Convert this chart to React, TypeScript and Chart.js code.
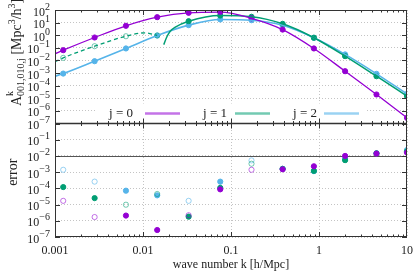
import React, { useEffect, useRef } from "react";
import { Chart, registerables } from "chart.js";

Chart.register(...registerables);

// ---- data ----
const kPoints = [0.00124, 0.00282, 0.0064, 0.0145, 0.033, 0.0755, 0.171, 0.386, 0.875, 1.98, 4.5, 10];

// top panel: A^k_{001,010,j}
const amp0 = [0.065, 0.66, 5.6, 27, 60, 68, 22, 2.8, 0.089, 1.4e-3, 2.0e-5, 2.8e-7];
const amp1 = [0.016, 0.135, 0.83, 0.95, 12.9, 36, 29, 8.0, 0.63, 0.022, 5.6e-4, 1.5e-5];
const amp1Filled = [false, false, false, false, true, true, true, true, true, true, true, true];
const amp2 = [9.1e-4, 8.7e-3, 0.089, 0.95, 6.3, 17.8, 15.5, 6.2, 0.63, 0.03, 8.7e-4, 2.2e-5];

// curves
const curve0K = [0.001, 0.00124, 0.00282, 0.0064, 0.0145, 0.033, 0.0755, 0.171, 0.386, 0.875, 1.98, 4.5, 10];
const curve0V = [0.034, 0.065, 0.66, 5.6, 27, 60, 68, 22, 2.8, 0.089, 1.4e-3, 2.0e-5, 2.8e-7];
const curve1DashK = [0.001, 0.00124, 0.00282, 0.0064, 0.0105, 0.0145];
const curve1DashV = [0.0079, 0.016, 0.135, 0.83, 1.55, 0.95];
const curve1K = [0.0172, 0.0188, 0.0204, 0.0233, 0.033, 0.0755, 0.171, 0.386, 0.875, 1.98, 4.5, 10];
const curve1V = [0.18, 0.83, 2.1, 4.4, 12.9, 36, 29, 8.0, 0.63, 0.022, 5.6e-4, 1.5e-5];
const curve2K = [0.001, 0.00124, 0.00282, 0.0064, 0.0145, 0.033, 0.0755, 0.171, 0.386, 0.875, 1.98, 4.5, 10];
const curve2V = [5.6e-4, 9.1e-4, 8.7e-3, 0.089, 0.95, 6.3, 17.8, 15.5, 6.2, 0.63, 0.03, 8.7e-4, 2.2e-5];

// bottom panel: error (filled = positive, open = negative)
const err0 = [1.7e-5, 1.7e-6, 2.1e-6, 2.7e-7, 2.2e-6, 8.7e-5, 1.4e-3, 1.5e-3, 2.3e-3, 1.0e-2, 1.4e-2, 1.6e-2];
const err0Filled = [false, false, true, true, false, true, false, true, true, true, true, true];
const err1 = [1.2e-4, 2.5e-5, 9.8e-6, 4.5e-5, 1.8e-6, 1.07e-4, 3.3e-3, 1.6e-3, 1.2e-3, 5.5e-3, 1.45e-2, 1.9e-2];
const err1Filled = [true, true, false, false, true, true, false, true, true, true, true, true];
const err2 = [1.4e-3, 2.6e-4, 7.2e-5, 3.7e-5, 1.7e-5, 2.6e-4, 5.3e-3, 1.6e-3, 1.15e-3, 6.5e-3, 1.45e-2, 2.3e-2];
const err2Filled = [false, false, true, true, false, true, false, true, true, true, true, true];
const errThreshold = 1e-2;

// axes
const xTicks = [0.001, 0.01, 0.1, 1, 10];
const xTickLabels = ["0.001", "0.01", "0.1", "1", "10"];
const topExponents = [-7, -6, -5, -4, -3, -2, -1, 0, 1, 2];
const errExponents = [-7, -6, -5, -4, -3, -2, -1, 0];
const errLabelExponents = [-7, -6, -5, -4, -3, -2, -1];
const legendLabels = ["j = 0", "j = 1", "j = 2"];

const PURPLE = "#9400d3";
const GREEN = "#009e73";
const BLUE = "#56b4e9";
const PURPLE_L = "rgba(148,0,211,0.55)";
const GREEN_L = "rgba(0,158,115,0.55)";
const BLUE_L = "rgba(86,180,233,0.6)";
const SERIF = "'Liberation Serif', 'DejaVu Serif', 'Times New Roman', serif";
const TEXT = "#222";

function pts(ks: number[], vs: number[]) {
  return ks.map((k, i) => ({ x: k, y: vs[i] }));
}

function lineDS(ks: number[], vs: number[], color: string, width: number, dash: number[] = []) {
  return {
    data: pts(ks, vs),
    yAxisID: "y",
    showLine: true,
    borderColor: color,
    borderWidth: width,
    borderDash: dash,
    pointRadius: 0,
    cubicInterpolationMode: "monotone" as const,
    fill: false,
  };
}

function markDS(vs: number[], filled: boolean[], color: string, light: string, axis: string) {
  return {
    data: pts(kPoints, vs),
    yAxisID: axis,
    showLine: false,
    pointRadius: 2.6,
    pointBackgroundColor: filled.map((f) => (f ? color : "rgba(255,255,255,0)")),
    pointBorderColor: filled.map((f) => (f ? color : light)),
    pointBorderWidth: 1,
  };
}

const allTrue = kPoints.map(() => true);

const decor = {
  id: "decor",
  beforeDatasetsDraw(chart: any) {
    const { ctx, chartArea } = chart;
    const y2 = chart.scales.y2;
    const yy = Math.round(y2.getPixelForValue(errThreshold)) + 0.5;
    ctx.save();
    ctx.strokeStyle = "#555";
    ctx.lineWidth = 1;
    ctx.beginPath();
    ctx.moveTo(chartArea.left, yy);
    ctx.lineTo(chartArea.right, yy);
    ctx.stroke();
    ctx.restore();
  },
  afterDatasetsDraw(chart: any) {
    const { ctx, chartArea } = chart;
    const xs = chart.scales.x;
    const ys = chart.scales.y;
    const y2 = chart.scales.y2;
    const L = chartArea.left, R = chartArea.right, T = chartArea.top, B = chartArea.bottom;
    const mid = ys.bottom;

    // legend (white box inside top panel)
    ctx.save();
    ctx.fillStyle = "#fff";
    ctx.fillRect(95, mid - 20, 272, 19);
    const legColors = [PURPLE_L, GREEN_L, BLUE_L];
    const textRight = [133, 227, 317];
    const lineStart = [145, 235, 324];
    ctx.font = `13px ${SERIF}`;
    ctx.textAlign = "right";
    ctx.textBaseline = "middle";
    legendLabels.forEach((lab, i) => {
      ctx.fillStyle = TEXT;
      ctx.fillText(lab, textRight[i], mid - 9.5);
      ctx.strokeStyle = legColors[i];
      ctx.lineWidth = 2.5;
      ctx.beginPath();
      ctx.moveTo(lineStart[i], mid - 10);
      ctx.lineTo(lineStart[i] + 35, mid - 10);
      ctx.stroke();
    });
    ctx.restore();

    // frame
    ctx.save();
    ctx.strokeStyle = "#333";
    ctx.lineWidth = 1;
    ctx.strokeRect(Math.round(L) + 0.5, Math.round(T) + 0.5, Math.round(R - L) - 1, Math.round(B - T) - 1);
    ctx.lineWidth = 1.5;
    ctx.beginPath();
    ctx.moveTo(L, mid);
    ctx.lineTo(R, mid);
    ctx.stroke();

    // x tick marks (inward, on all horizontal borders)
    const edges = [
      { y: T, dir: 1 },
      { y: mid, dir: -1 },
      { y: mid, dir: 1 },
      { y: B, dir: -1 },
    ];
    ctx.lineWidth = 1;
    ctx.beginPath();
    for (let e = -3; e <= 0; e++) {
      for (let m = 1; m <= 9; m++) {
        const v = m * Math.pow(10, e);
        const px = Math.round(xs.getPixelForValue(v)) + 0.5;
        const len = m === 1 ? 5 : 2.5;
        edges.forEach((ed) => {
          ctx.moveTo(px, ed.y);
          ctx.lineTo(px, ed.y + ed.dir * len);
        });
      }
    }
    // y tick marks (left and right)
    const yMarks = (scale: any, exps: number[]) => {
      exps.forEach((e) => {
        const py = Math.round(scale.getPixelForValue(Math.pow(10, e))) + 0.5;
        ctx.moveTo(L, py);
        ctx.lineTo(L + 5, py);
        ctx.moveTo(R, py);
        ctx.lineTo(R - 5, py);
      });
    };
    yMarks(ys, topExponents);
    yMarks(y2, errExponents);
    ctx.stroke();
    ctx.restore();

    // y tick labels 10^n
    const yLabels = (scale: any, exps: number[]) => {
      exps.forEach((e) => {
        const py = scale.getPixelForValue(Math.pow(10, e));
        const expTxt = e < 0 ? "\u2212" + String(-e) : String(e);
        ctx.font = `10px ${SERIF}`;
        const ew = ctx.measureText(expTxt).width;
        ctx.textAlign = "right";
        ctx.textBaseline = "alphabetic";
        ctx.fillStyle = TEXT;
        ctx.fillText(expTxt, 50, py - 0.5);
        ctx.font = `12px ${SERIF}`;
        ctx.fillText("10", 50 - ew, py + 5.5);
      });
    };
    ctx.save();
    yLabels(ys, topExponents);
    yLabels(y2, errLabelExponents);
    ctx.restore();

    // y titles
    ctx.save();
    ctx.fillStyle = TEXT;
    ctx.translate(20.5, 106);
    ctx.rotate(-Math.PI / 2);
    ctx.textAlign = "left";
    ctx.textBaseline = "alphabetic";
    let x = 0;
    const seg = (t: string, size: number, dy: number, advance = true) => {
      ctx.font = `${size}px ${SERIF}`;
      ctx.fillText(t, x, dy);
      const w = ctx.measureText(t).width;
      if (advance) x += w;
      return w;
    };
    seg("A", 14, 0);
    const x0 = x;
    seg("k", 10, -7.5, false);
    x = x0;
    seg("001,010,j", 10, 3.5);
    seg(" [Mpc", 14, 0);
    seg("3", 10, -6);
    seg("/h", 14, 0);
    seg("3", 10, -6);
    seg("]", 14, 0);
    ctx.restore();

    ctx.save();
    ctx.fillStyle = TEXT;
    ctx.translate(17, (y2.top + y2.bottom) / 2 - 8);
    ctx.rotate(-Math.PI / 2);
    ctx.textAlign = "center";
    ctx.textBaseline = "alphabetic";
    ctx.font = `14px ${SERIF}`;
    ctx.fillText("error", 0, 0);
    ctx.restore();
  },
};

export default function App() {
  const ref = useRef<HTMLCanvasElement | null>(null);
  useEffect(() => {
    document.body.style.margin = "0";
    const canvas = ref.current;
    if (!canvas) return;
    const decadeTicks = (exps: number[]) => (s: any) => {
      s.ticks = exps.map((e) => ({ value: Math.pow(10, e) }));
    };
    const gridOpts = { color: "#c4c4c4", lineWidth: 1, drawTicks: false };
    const chart = new Chart(canvas, {
      type: "scatter",
      data: {
        datasets: [
          lineDS(curve0K, curve0V, PURPLE, 1.3),
          lineDS(curve1DashK, curve1DashV, GREEN, 1.3, [4, 3]),
          lineDS(curve1K, curve1V, GREEN, 1.5),
          lineDS(curve2K, curve2V, BLUE, 1.6),
          markDS(amp0, allTrue, PURPLE, PURPLE_L, "y"),
          markDS(amp1, amp1Filled, GREEN, GREEN_L, "y"),
          markDS(amp2, allTrue, BLUE, BLUE_L, "y"),
          markDS(err0, err0Filled, PURPLE, PURPLE_L, "y2"),
          markDS(err1, err1Filled, GREEN, GREEN_L, "y2"),
          markDS(err2, err2Filled, BLUE, BLUE_L, "y2"),
        ] as any,
      },
      options: {
        animation: false,
        responsive: false,
        devicePixelRatio: 1,
        layout: { padding: { top: 10, right: 8, left: 0, bottom: 0 } },
        plugins: { legend: { display: false }, tooltip: { enabled: false } },
        scales: {
          y2: {
            type: "logarithmic",
            position: "left",
            stack: "panels",
            stackWeight: 1,
            min: 1e-7,
            max: 1,
            afterBuildTicks: decadeTicks(errExponents),
            afterFit: (s: any) => {
              s.width = 55;
            },
            ticks: { display: false },
            grid: gridOpts,
            border: { display: false, dash: [1, 2] },
          },
          y: {
            type: "logarithmic",
            position: "left",
            stack: "panels",
            stackWeight: 1,
            min: 1e-7,
            max: 100,
            afterBuildTicks: decadeTicks(topExponents),
            afterFit: (s: any) => {
              s.width = 55;
            },
            ticks: { display: false },
            grid: gridOpts,
            border: { display: false, dash: [1, 2] },
          },
          x: {
            type: "logarithmic",
            position: "bottom",
            min: 0.001,
            max: 10,
            afterBuildTicks: (s: any) => {
              s.ticks = xTicks.map((v) => ({ value: v }));
            },
            afterFit: (s: any) => {
              s.height = 43;
            },
            ticks: {
              autoSkip: false,
              maxRotation: 0,
              padding: 7,
              color: TEXT,
              font: { family: SERIF, size: 12 },
              callback: (v: any) => {
                const i = xTicks.indexOf(Number(v));
                return i >= 0 ? xTickLabels[i] : "";
              },
            },
            grid: gridOpts,
            border: { display: false, dash: [1, 2] },
            title: {
              display: true,
              text: "wave number k [h/Mpc]",
              color: TEXT,
              font: { family: SERIF, size: 12 },
              padding: { top: 0, bottom: 8 },
            },
          },
        },
      } as any,
      plugins: [decor],
    });
    return () => chart.destroy();
  }, []);
  return <canvas ref={ref} width={420} height={280} style={{ display: "block" }} />;
}
